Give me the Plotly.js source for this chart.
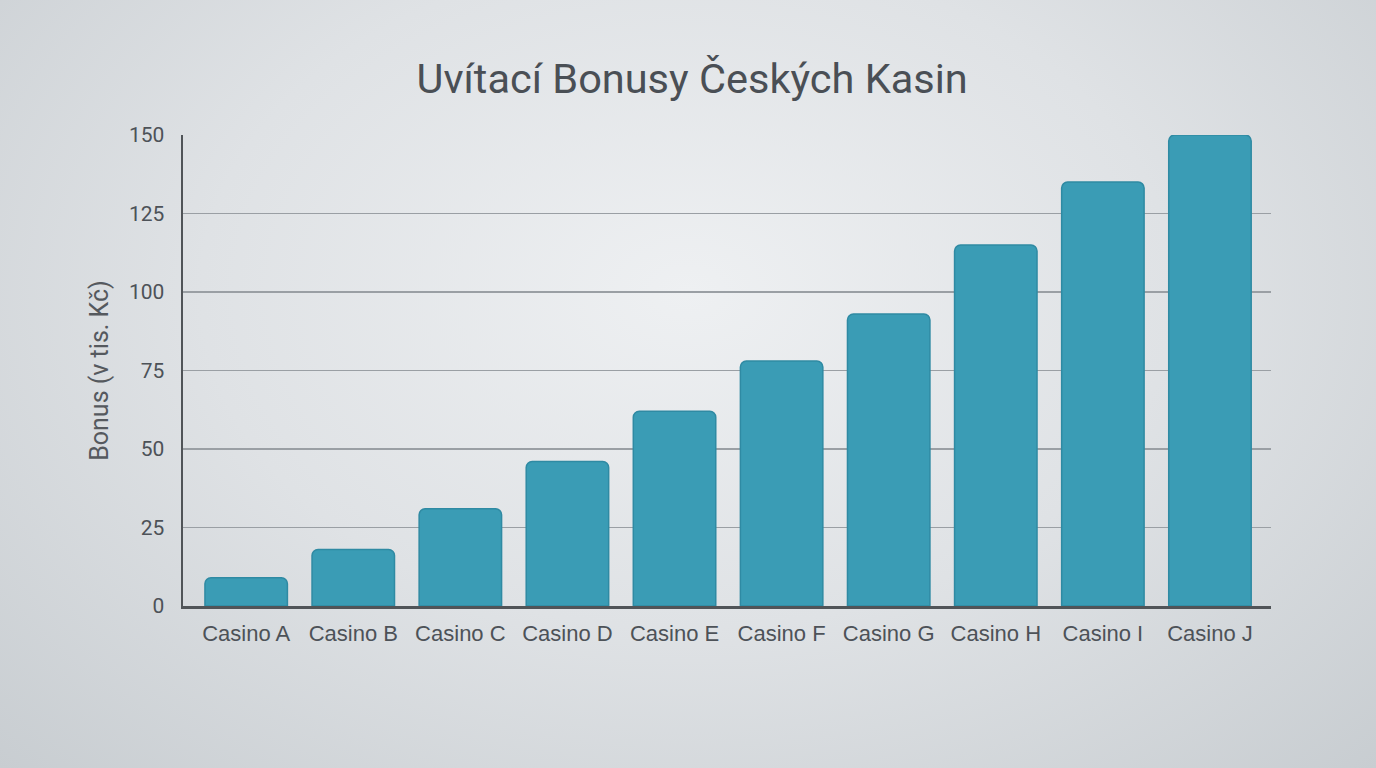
<!DOCTYPE html>
<html>
<head>
<meta charset="utf-8">
<script src="https://cdn.plot.ly/plotly-3.0.1.min.js"></script>
<style>
html,body{margin:0;padding:0;width:1376px;height:768px;overflow:hidden;
background: radial-gradient(ellipse at 50% 38%, #eef0f2 0%, #dfe2e5 50%, #c8cdd1 100%);}
#chart{width:1376px;height:768px;}
</style>
</head>
<body>
<div id="chart"></div>
<script>
const categories = ["Casino A","Casino B","Casino C","Casino D","Casino E","Casino F","Casino G","Casino H","Casino I","Casino J"];
const bonusValues = [9, 18, 31, 46, 62, 78, 93, 115, 135, 150];
const yTicks = [0, 25, 50, 75, 100, 125, 150];
const titleText = "Uvítací Bonusy Českých Kasin";
const yTitleText = "Bonus (v tis. Kč)";

const trace = {
  type: "bar",
  x: categories,
  y: bonusValues,
  marker: {
    color: "#3a9cb5",
    line: {color: "#2f8aa3", width: 1.5}
  },
  hoverinfo: "x+y"
};

const layout = {
  width: 1376, height: 768,
  paper_bgcolor: "rgba(0,0,0,0)",
  plot_bgcolor: "rgba(0,0,0,0)",
  margin: {l: 183, r: 105, t: 135, b: 162},
  bargap: 0.23,
  barcornerradius: 6,
  showlegend: false,
  title: {
    text: titleText,
    font: {family: "Roboto, 'Noto Sans', sans-serif", size: 41.5, color: "#4a4f55"},
    x: 0.503, xanchor: "center", y: 0.898, yanchor: "middle"
  },
  font: {family: "Roboto, 'Liberation Sans', sans-serif", color: "#4d5258"},
  xaxis: {
    type: "category",
    range: [-0.59, 9.57],
    tickfont: {size: 22, color: "#4d5258", family: "'Liberation Sans', Arial, sans-serif"},
    showline: true, linecolor: "#505458", linewidth: 2.5,
    ticks: "outside", ticklen: 6, tickcolor: "rgba(0,0,0,0)",
    showgrid: false,
    zeroline: false
  },
  yaxis: {
    range: [0, 150],
    tickvals: yTicks,
    ticktext: yTicks.map(String),
    tickfont: {size: 21, color: "#4d5258", family: "Roboto, 'Liberation Sans', sans-serif"},
    showline: true, linecolor: "#505458", linewidth: 2.5,
    showgrid: true, gridcolor: "#9a9fa4", gridwidth: 1.2,
    zeroline: false,
    ticks: "", ticklabelstandoff: 12,
    title: {
      text: yTitleText,
      font: {size: 25, color: "#55595e", family: "Roboto, 'Noto Sans', sans-serif"},
      standoff: 13
    }
  }
};

Plotly.newPlot("chart", [trace], layout, {displayModeBar: false, staticPlot: true});
</script>
</body>
</html>
